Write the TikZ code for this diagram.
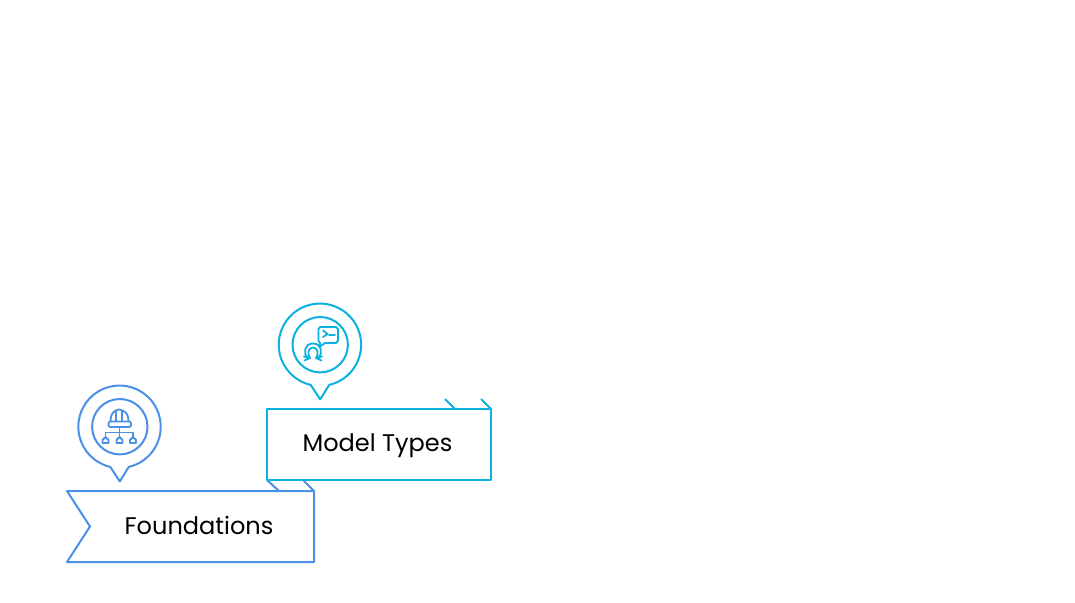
\documentclass[tikz,border=0pt]{standalone}
\usepackage{fontspec}
\setmainfont{Poppins}
\definecolor{foundblue}{HTML}{4A90E6}
\definecolor{modelcyan}{HTML}{0BB1DF}
\tikzset{
	stage/.style={line width=0.05cm, line join=round},
	icon/.style={line width=0.045cm, line join=round, line cap=round},
	stagetext/.style={text=black, font=\fontsize{17.1pt}{20pt}\selectfont, inner sep=0pt, anchor=base},
	pinmark/.pic={
		\draw[stage] (0,54.7) -- (9,40.2) arc (77:-257:41.2) -- cycle;
		\draw[stage] (0,0) circle (27.7);
	}
}
\begin{document}
\begin{tikzpicture}[x=0.025cm,y=-0.025cm]
	\useasboundingbox (0,0) rectangle (1075,603);
	% foundations
	\begin{scope}[color=foundblue]
		\draw[stage] (267,480) -- (279,491);
		\draw[stage] (303,480) -- (314,491);
		\draw[stage] (67,491) -- (314,491) -- (314,562) -- (67,562) -- (90,526.5) -- cycle;
		\pic at (119.8,426.7) {pinmark};
		% helmet
		\draw[icon, rounded corners=1] (108.5,421.5) rectangle (131,427);
		\draw[icon] (110.5,421) .. controls (110.5,415) and (113,411.5) .. (116,410.5);
		\draw[icon] (128.5,421) .. controls (128.5,415) and (126,411.5) .. (122,410.5);
		\draw[icon] (116,421) -- (116,410.5) .. controls (118,409) and (120,409) .. (122,410.5) -- (122,421);
		% tree
		\draw[icon] (119.5,427) -- (119.5,436.5);
		\draw[icon] (105.5,436.5) -- (105.5,432.5) -- (133,432.5) -- (133,436.5);
		\foreach \hx in {105.5,119.5,133}{
			\draw[icon] (\hx-3,443) -- (\hx+3,443) -- (\hx+3,440) -- (\hx,437) -- (\hx-3,440) -- cycle;
		}
	\end{scope}
	% model types
	\begin{scope}[color=modelcyan]
		\draw[stage] (445,399) -- (455,409);
		\draw[stage] (481,399) -- (491,409);
		\draw[stage] (267,409) rectangle (491,480);
		\pic at (320.2,344.7) {pinmark};
		% chat bubble
		\draw[icon] (320,327) -- (336,327) -- (338,329) -- (338,341) -- (336,343) -- (325,343) -- (320,346.5) -- (320,343) -- (318.5,341) -- (318.5,329) -- cycle;
		\draw[icon] (323,330.5) -- (327.5,334) -- (323,337);
		\draw[icon] (329,335) -- (335,335);
		% person
		\draw[icon] (307.5,358) .. controls (303,354) and (304,343.5) .. (313,343.5) .. controls (322,343.5) and (323,354) .. (318.5,358);
		\draw[icon] (310,358) .. controls (307,354) and (308,347.5) .. (313,347.5) .. controls (318,347.5) and (319,354) .. (316,358);
		\draw[icon] (304,356.5) -- (310,358) -- (304.5,360.5);
		\draw[icon] (322,356.5) -- (316,358) -- (321.5,360.5);
	\end{scope}
	\node[stagetext] (foundations) at (199,534) {Foundations};
	\node[stagetext] (modeltypes) at (377.5,451) {Model Types};
\end{tikzpicture}
\end{document}
